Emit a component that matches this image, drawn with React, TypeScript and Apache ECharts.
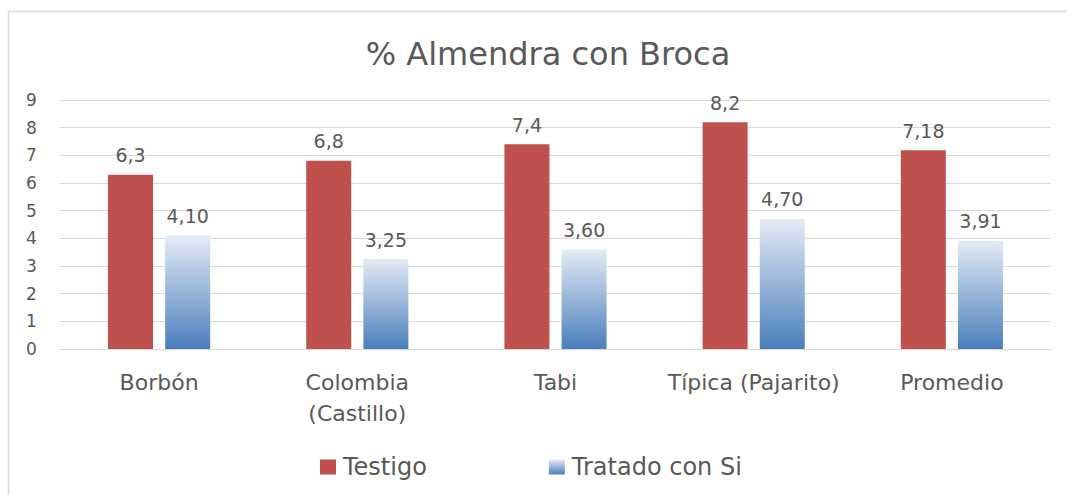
import React, { useEffect, useRef } from "react";
import * as echarts from "echarts";

const categories = ["Borbón", "Colombia\n(Castillo)", "Tabi", "Típica (Pajarito)", "Promedio"];
const testigo = [6.3, 6.8, 7.4, 8.2, 7.18];
const tratado = [4.1, 3.25, 3.6, 4.7, 3.91];
const seriesNames = ["Testigo", "Tratado con Si"];
const titleText = "% Almendra con Broca";

const FONT = "'DejaVu Sans', 'Open Sans', sans-serif";
const TXT = "#595959";

export default function App() {
  const ref = useRef<HTMLDivElement>(null);
  useEffect(() => {
    const chart = echarts.init(ref.current!, null, { renderer: "svg" });
    const blue = new echarts.graphic.LinearGradient(0, 0, 0, 1, [
      { offset: 0, color: "#e4ebf5" },
      { offset: 1, color: "#4a7ebb" },
    ]);
    chart.setOption({
      animation: false,
      backgroundColor: "#ffffff",
      textStyle: { fontFamily: FONT },
      title: {
        text: titleText,
        left: 543,
        top: 33,
        textAlign: "center",
        textStyle: { fontFamily: FONT, fontSize: 32, fontWeight: "normal", color: TXT },
      },
      graphic: [
        {
          type: "rect",
          shape: { x: 8.5, y: 11.5, width: 1100, height: 520 },
          style: { fill: "none", stroke: "#d9d9d9", lineWidth: 1.5 },
          silent: true,
        },
      ],
      legend: {
        left: 315,
        top: 450,
        itemWidth: 16,
        itemHeight: 15,
        itemGap: 122,
        icon: "rect",
        textStyle: { fontFamily: FONT, fontSize: 24, color: TXT, padding: [0, 0, 0, 2] },
        data: seriesNames,
      },
      grid: { left: 60, right: 16, top: 100, bottom: 146 },
      xAxis: {
        type: "category",
        data: categories,
        axisLine: { lineStyle: { color: "#d9d9d9", width: 1 } },
        axisTick: { show: false },
        axisLabel: {
          fontFamily: FONT,
          fontSize: 22,
          color: TXT,
          margin: 18,
          lineHeight: 31,
          interval: 0,
        },
      },
      yAxis: {
        type: "value",
        min: 0,
        max: 9,
        interval: 1,
        axisLine: { show: false },
        axisTick: { show: false },
        splitLine: { lineStyle: { color: "#d9d9d9", width: 1 } },
        axisLabel: {
          fontFamily: FONT,
          fontSize: 17,
          color: TXT,
          margin: 34,
          align: "left",
        },
      },
      series: [
        {
          name: seriesNames[0],
          type: "bar",
          data: testigo,
          barWidth: 45,
          barGap: "27%",
          itemStyle: { color: "#c0504d" },
          label: {
            show: true,
            position: "top",
            distance: 10,
            fontFamily: FONT,
            fontSize: 19,
            color: TXT,
            formatter: (p: any) => String(p.value).replace(".", ","),
          },
        },
        {
          name: seriesNames[1],
          type: "bar",
          data: tratado,
          barWidth: 45,
          itemStyle: { color: blue },
          label: {
            show: true,
            position: "top",
            distance: 10,
            fontFamily: FONT,
            fontSize: 19,
            color: TXT,
            formatter: (p: any) => Number(p.value).toFixed(2).replace(".", ","),
          },
        },
      ],
    });
    return () => chart.dispose();
  }, []);
  return (
    <div
      ref={ref}
      style={{ position: "fixed", left: 0, top: 0, width: 1067, height: 495 }}
    />
  );
}
